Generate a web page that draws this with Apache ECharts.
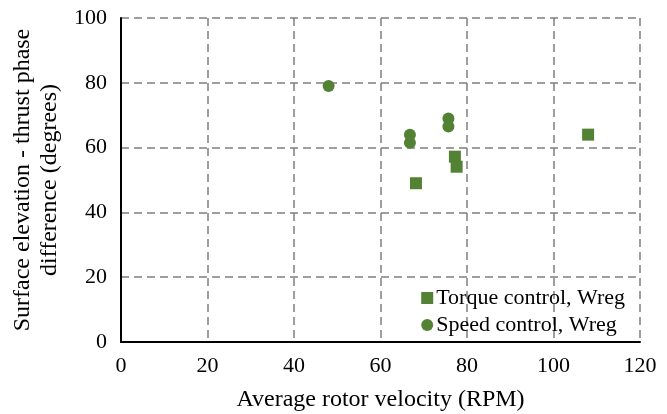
<!DOCTYPE html>
<html><head><meta charset="utf-8">
<script src="https://cdn.jsdelivr.net/npm/echarts@6/dist/echarts.min.js"></script>
<style>html,body{margin:0;padding:0;background:#fff}#c{width:667px;height:414px}</style>
</head><body><div id="c"></div>
<script>
const torqueRPM = [68.2, 77.2, 77.6, 108.0];
const torquePhase = [49.0, 57.2, 54.1, 64.0];
const speedRPM = [48.0, 66.8, 66.8, 75.7, 75.7];
const speedPhase = [79.0, 64.0, 61.5, 69.0, 66.5];
const seriesNames = ['Torque control, Wreg', 'Speed control, Wreg'];
const xName = 'Average rotor velocity (RPM)';
const yName = 'Surface elevation - thrust phase\ndifference (degrees)';

const green = '#548235';
const font = 'Liberation Serif';
const chart = echarts.init(document.getElementById('c'));
const pair = (xs, ys) => xs.map((x, i) => [x, ys[i]]);
const grid = {type: [8, 5], color: '#7f7f7f', width: 1.5};
chart.setOption({
  animation: false,
  grid: {left: 121, right: 27, top: 18, bottom: 72, containLabel: false, outerBoundsMode: 'none'},
  legend: {
    right: 42, top: 287, orient: 'vertical', itemGap: 5, itemWidth: 12, itemHeight: 12, padding: 0,
    textStyle: {fontFamily: font, fontSize: 22, color: '#000', padding: [0,0,0,-2]},
    data: [{name: seriesNames[0], icon: 'rect'}, {name: seriesNames[1], icon: 'circle'}]
  },
  xAxis: {
    type: 'value', min: 0, max: 120, interval: 20,
    name: xName, nameLocation: 'middle', nameGap: 46,
    nameTextStyle: {fontFamily: font, fontSize: 24, color: '#000'},
    axisLine: {show: true, lineStyle: {color: '#000', width: 2}},
    axisTick: {show: false},
    axisLabel: {fontFamily: font, fontSize: 22, color: '#000', margin: 13},
    splitLine: {show: true, lineStyle: grid}
  },
  yAxis: {
    type: 'value', min: 0, max: 100, interval: 20,
    name: yName, nameLocation: 'middle', nameGap: 57,
    nameTextStyle: {fontFamily: font, fontSize: 24, color: '#000', lineHeight: 27},
    axisLine: {show: true, lineStyle: {color: '#000', width: 2}},
    axisTick: {show: false},
    axisLabel: {fontFamily: font, fontSize: 22, color: '#000', margin: 14},
    splitLine: {show: true, lineStyle: grid}
  },
  series: [
    {name: seriesNames[0], type: 'scatter', symbol: 'rect', symbolSize: 12,
     itemStyle: {color: green, opacity: 1}, data: pair(torqueRPM, torquePhase)},
    {name: seriesNames[1], type: 'scatter', symbol: 'circle', symbolSize: 12,
     itemStyle: {color: green, opacity: 1}, data: pair(speedRPM, speedPhase)}
  ]
});
</script></body></html>
